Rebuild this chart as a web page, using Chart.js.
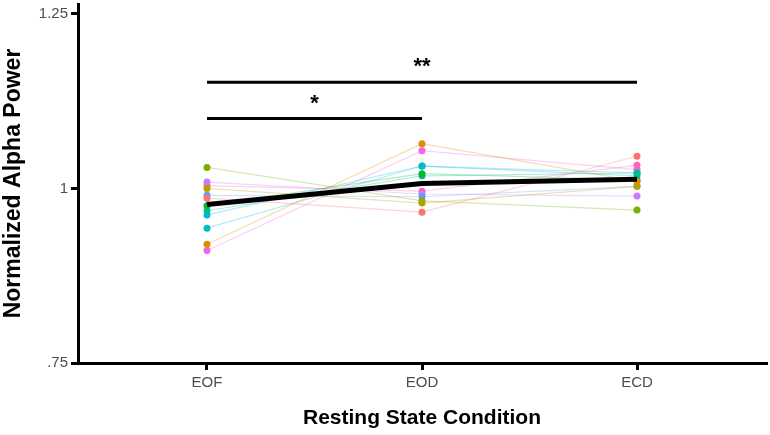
<!DOCTYPE html>
<html>
<head>
<meta charset="utf-8">
<script src="https://cdn.jsdelivr.net/npm/chart.js@4.4.0/dist/chart.umd.min.js"></script>
<style>
  html, body { margin: 0; padding: 0; background: #fff; }
  #wrap { width: 770px; height: 435px; }
</style>
</head>
<body>
<div id="wrap"><canvas id="chart"></canvas></div>
<script>
// conditions -> x axis
const conditions = ['EOF', 'EOD', 'ECD'];

// one line per subject
const subjectColors = ['#F8766D', '#DE8C00', '#B79F00', '#7CAE00', '#00BA38', '#00C08B',
                       '#00BFC4', '#00B4F0', '#619CFF', '#C77CFF', '#F564E3', '#FF64B0'];
const subjectValues = [
  [0.986, 0.966, 1.046],
  [0.920, 1.064, 1.010],
  [1.000, 0.979, 1.003],
  [1.030, 0.982, 0.969],
  [0.975, 1.021, 1.012],
  [0.968, 1.018, 1.022],
  [0.943, 1.032, 1.022],
  [0.962, 1.032, 1.018],
  [0.990, 0.988, 1.003],
  [1.009, 0.992, 0.989],
  [0.911, 1.054, 1.027],
  [1.004, 0.996, 1.033]
];

// group mean
const meanValues = [0.977, 1.007, 1.013];

// significance brackets: [from, to, height, label]
const brackets = [
  [1, 2, 1.100, '*'],
  [1, 3, 1.152, '**']
];

const yTicks = [0.75, 1, 1.25];
const yTickLabels = ['.75', '1', '1.25'];

function hexA(hex, a) {
  let r = parseInt(hex.slice(1, 3), 16), g = parseInt(hex.slice(3, 5), 16), b = parseInt(hex.slice(5, 7), 16);
  return 'rgba(' + r + ',' + g + ',' + b + ',' + a + ')';
}

let datasets = [];
subjectValues.forEach((vals, i) => {
  datasets.push({
    data: vals.map((v, j) => ({x: j + 1, y: v})),
    borderColor: hexA(subjectColors[i], 0.3),
    borderWidth: 1.2,
    pointRadius: 3.5,
    pointBackgroundColor: subjectColors[i],
    pointBorderWidth: 0,
    order: 2
  });
});
datasets.push({
  data: meanValues.map((v, j) => ({x: j + 1, y: v})),
  borderColor: '#000',
  borderWidth: 5,
  pointRadius: 0,
  order: 1
});
brackets.forEach(b => {
  datasets.push({
    data: [{x: b[0], y: b[2]}, {x: b[1], y: b[2]}],
    borderColor: '#000',
    borderWidth: 3,
    pointRadius: 0,
    order: 0
  });
});

// stars above the brackets
const starPlugin = {
  id: 'stars',
  afterDatasetsDraw(chart) {
    const ctx = chart.ctx, xs = chart.scales.x, ys = chart.scales.y;
    ctx.save();
    ctx.fillStyle = '#000';
    ctx.font = 'bold 22px "Liberation Sans", Arial, sans-serif';
    ctx.textAlign = 'center';
    ctx.textBaseline = 'alphabetic';
    brackets.forEach(b => {
      ctx.fillText(b[3], xs.getPixelForValue((b[0] + b[1]) / 2), ys.getPixelForValue(b[2]) - 9);
    });
    ctx.restore();
  }
};

const tickFont = {family: '"Liberation Sans", Arial, sans-serif', size: 15};
const xTitleFont = {family: '"Liberation Sans", Arial, sans-serif', size: 21, weight: 'bold'};
const yTitleFont = {family: '"Liberation Sans", Arial, sans-serif', size: 23, weight: 'bold'};

new Chart(document.getElementById('chart'), {
  type: 'line',
  data: {datasets: datasets},
  options: {
    responsive: true,
    maintainAspectRatio: false,
    animation: false,
    layout: {padding: 0},
    plugins: {legend: {display: false}, tooltip: {enabled: false}},
    scales: {
      x: {
        type: 'linear',
        min: 0.4,
        max: 3.6,
        afterBuildTicks: s => { s.ticks = conditions.map((c, i) => ({value: i + 1})); },
        afterFit: s => { s.height = 72; s.paddingLeft = 0; s.paddingRight = 0; },
        ticks: {
          callback: v => conditions[v - 1],
          color: '#4d4d4d',
          font: tickFont,
          padding: 4,
          maxRotation: 0
        },
        grid: {drawOnChartArea: false, drawTicks: true, tickLength: 7, color: '#000', lineWidth: 3},
        border: {display: true, color: '#000', width: 3},
        title: {display: true, text: 'Resting State Condition', color: '#000', font: xTitleFont, padding: {top: 4}}
      },
      y: {
        min: 0.75,
        max: 1.264,
        afterBuildTicks: s => { s.ticks = yTicks.map(v => ({value: v})); },
        afterFit: s => { s.width = 78; s.paddingTop = 0; s.paddingBottom = 0; },
        ticks: {
          callback: v => yTickLabels[yTicks.indexOf(v)],
          color: '#4d4d4d',
          font: tickFont,
          padding: 3
        },
        grid: {drawOnChartArea: false, drawTicks: true, tickLength: 7, color: '#000', lineWidth: 3},
        border: {display: true, color: '#000', width: 3},
        title: {display: true, text: 'Normalized Alpha Power', color: '#000', font: yTitleFont, padding: {top: 0, bottom: 4}}
      }
    }
  },
  plugins: [starPlugin]
});
</script>
</body>
</html>
